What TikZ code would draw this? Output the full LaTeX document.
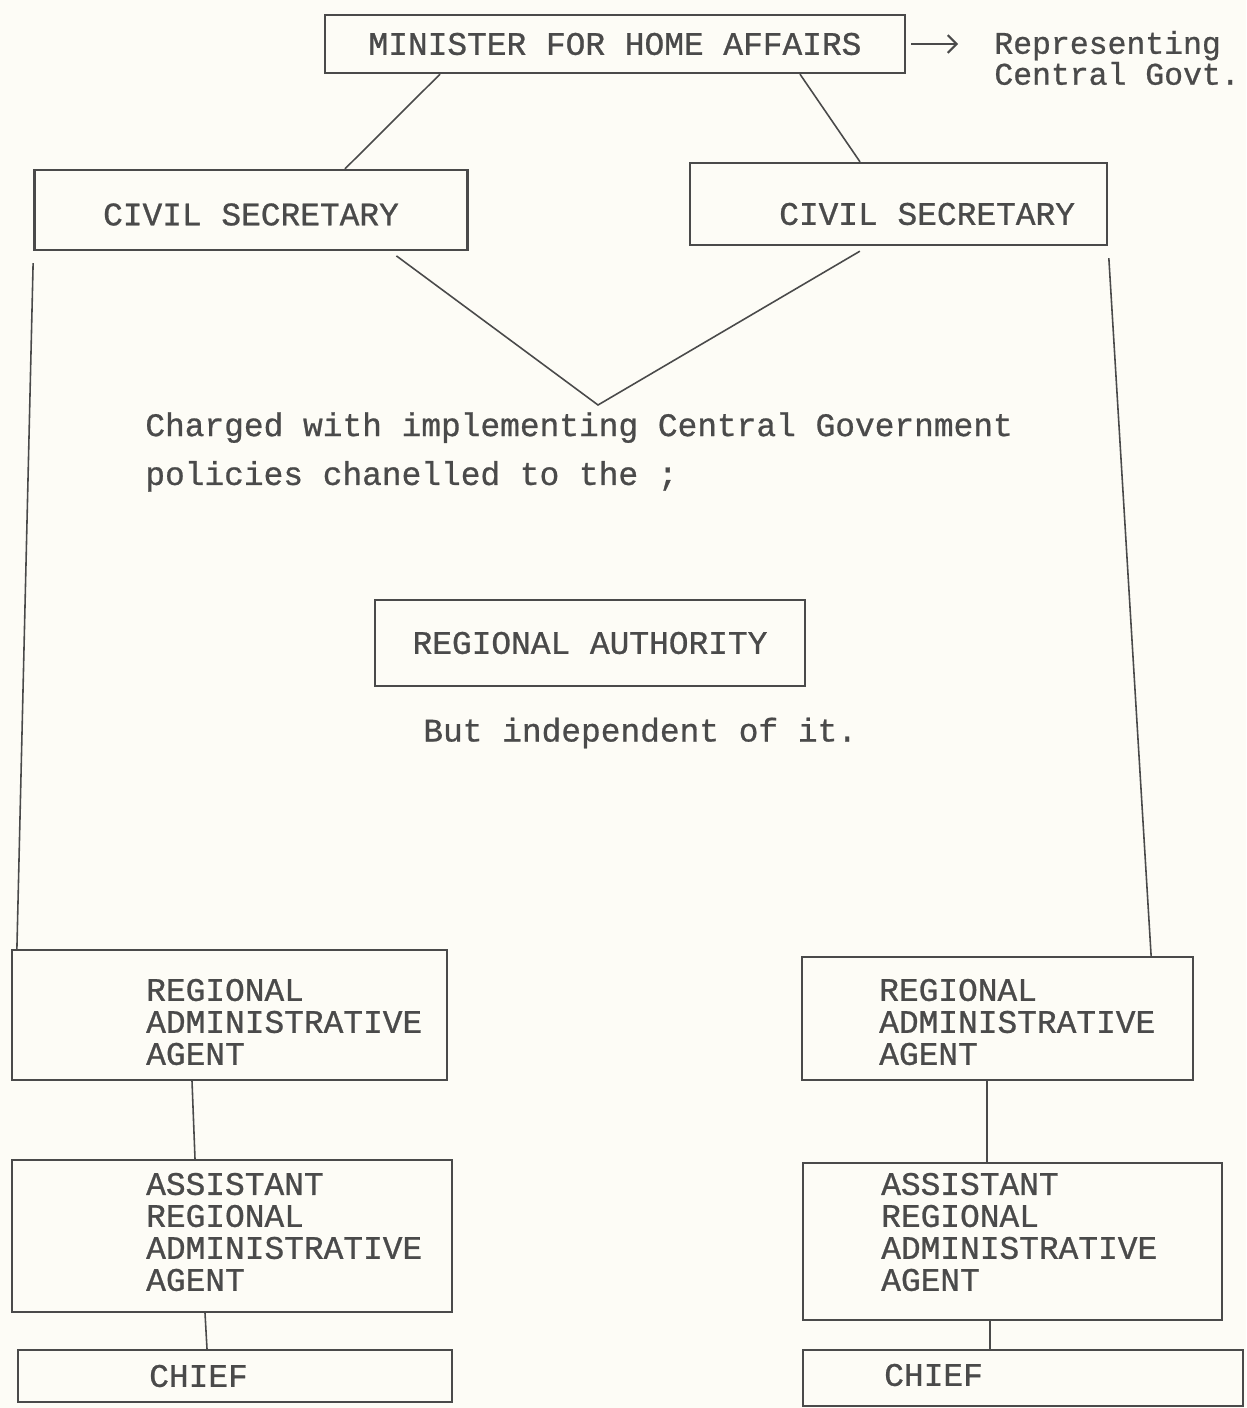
\documentclass[tikz,border=0pt]{standalone}
\usepackage{fontspec}
\usepackage{tikz}
\usetikzlibrary{arrows,arrows.meta,positioning}

\newfontfamily\typewriter[FakeBold=0.8]{Liberation Mono}
\definecolor{ink}{HTML}{4A4A4A}
\definecolor{paper}{HTML}{FDFCF6}

\begin{document}
\begin{tikzpicture}[
            x = 0.02cm, y = -0.02cm,
            >= {Straight Barb[length = 5pt, width = 10pt]},
            box/.style = {
                draw = ink, rectangle,
                line width = 1.3pt,
                inner sep = 0pt,
                font = \typewriter\fontsize{18.7}{18.2}\selectfont,
                text = ink,
            },
            typed/.style = {
                inner sep = 0pt,
                align = left,
                font = \typewriter\fontsize{18.7}{18.2}\selectfont,
                text = ink,
            },
            link/.style = {draw = ink, line width = 0.9pt},
        ]

        % Page
        \fill[paper] (0,0) rectangle (1246,1408);
        \useasboundingbox (0,0) rectangle (1246,1408);

        % Top
        \node[box, minimum width = 11.6cm, minimum height = 1.16cm] (minister) at (615,44) {MINISTER FOR HOME AFFAIRS};
        \node[typed, anchor = west, font = \typewriter\fontsize{17.9}{17.6}\selectfont] (central) at (994,58) {Representing\\Central Govt.};

        \node[box, minimum width = 8.66cm, minimum height = 1.6cm, text height = 0.62cm] (civil_left) at (251,210) {CIVIL SECRETARY};
        \node[box, minimum width = 8.34cm, minimum height = 1.64cm] (civil_right) at (898.5,204) {};
        \node[typed, right = 1.8cm of civil_right.west, yshift = -0.2cm] (civil_right_text) {CIVIL SECRETARY};

        % Middle
        \coordinate (apex) at (598,405);
        \node[typed, anchor = west] (charged) at (145,452) {Charged with implementing Central Government\\[9.6pt]policies chanelled to the ;};
        \node[box, minimum width = 8.6cm, minimum height = 1.72cm] (authority) at (590,643) {REGIONAL AUTHORITY};
        \node[typed, anchor = west] (independent) at (423,733) {But independent of it.};

        % Left column
        \node[box, minimum width = 8.7cm, minimum height = 2.6cm] (agent_left) at (229.5,1015) {};
        \node[typed, right = 2.7cm of agent_left.west, yshift = -0.14cm] (agent_left_text) {REGIONAL\\ADMINISTRATIVE\\AGENT};
        \node[box, minimum width = 8.8cm, minimum height = 3.04cm] (assistant_left) at (232,1236) {};
        \node[typed, right = 2.7cm of assistant_left.west, yshift = 0.08cm] (assistant_left_text) {ASSISTANT\\REGIONAL\\ADMINISTRATIVE\\AGENT};
        \node[box, minimum width = 8.68cm, minimum height = 1.04cm] (chief_left) at (235,1376) {};
        \node[typed, right = 2.64cm of chief_left.west] (chief_left_text) {CHIEF};

        % Right column
        \node[box, minimum width = 7.82cm, minimum height = 2.46cm] (agent_right) at (997.5,1018.5) {};
        \node[typed, right = 1.56cm of agent_right.west, yshift = -0.07cm] (agent_right_text) {REGIONAL\\ADMINISTRATIVE\\AGENT};
        \node[box, minimum width = 8.38cm, minimum height = 3.14cm] (assistant_right) at (1012.5,1241.5) {};
        \node[typed, right = 1.58cm of assistant_right.west, yshift = 0.19cm] (assistant_right_text) {ASSISTANT\\REGIONAL\\ADMINISTRATIVE\\AGENT};
        \node[box, minimum width = 8.8cm, minimum height = 1.12cm] (chief_right) at (1023,1378) {};
        \node[typed, right = 1.64cm of chief_right.west, yshift = 0.06cm] (chief_right_text) {CHIEF};

        % Lines
        \draw[link, ->, line width = 1.2pt, shorten <= 0.1cm, shorten >= 0.72cm] (minister.east) -- (central.west |- minister.east);

        \path[link]
            ([xshift = -3.5cm]minister.south) edge ([xshift = 1.88cm]civil_left.north)
            ([xshift = 3.7cm]minister.south) edge ([xshift = -0.77cm]civil_right.north);

        \draw[link, shorten <= 0.16cm, shorten >= 0.2cm] ([xshift = 2.78cm]civil_left.south) -- (apex) -- ([xshift = -0.6cm]civil_right.south);

        \path[link, shorten <= 0.24cm]
            (civil_left.south west) edge ([xshift = 0.12cm]agent_left.north west)
            (civil_right.south east) edge ([xshift = -0.86cm]agent_right.north east);

        \path[link]
            ([xshift = -0.75cm]agent_left.south) edge ([xshift = -0.74cm]assistant_left.north)
            ([xshift = -0.54cm]assistant_left.south) edge ([xshift = -0.56cm]chief_left.north)
            ([xshift = -0.21cm]agent_right.south) edge ([xshift = -0.51cm]assistant_right.north)
            ([xshift = -0.45cm]assistant_right.south) edge ([xshift = -0.66cm]chief_right.north);
    \end{tikzpicture}
\end{document}
